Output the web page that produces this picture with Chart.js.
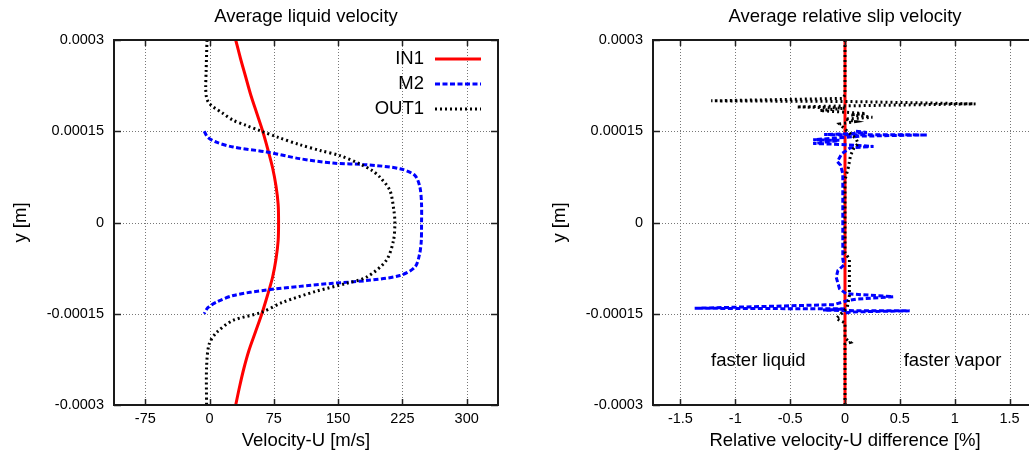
<!DOCTYPE html>
<html><head><meta charset="utf-8">
<script src="https://cdn.jsdelivr.net/npm/chart.js@4.4.0/dist/chart.umd.min.js"></script>
<style>
html,body{margin:0;padding:0;background:#fff;overflow:hidden;width:1029px;height:452px;}
#wrap{position:relative;width:1029px;height:452px;overflow:hidden;background:#fff;}
canvas{position:absolute;top:0;}
#c1{left:0;} #c2{left:539px;}
</style></head><body>
<div id="wrap"><canvas id="c1" width="520" height="452"></canvas><canvas id="c2" width="520" height="452"></canvas></div>
<script>
// ---- axis ticks ----
const yTicks = [-0.0003, -0.00015, 0, 0.00015, 0.0003];
const yTickLabels = ['-0.0003', '-0.00015', '0', '0.00015', '0.0003'];
const velTicks = [-75, 0, 75, 150, 225, 300];
const velTickLabels = ['-75', '0', '75', '150', '225', '300'];
const slipTicks = [-1.5, -1, -0.5, 0, 0.5, 1, 1.5];
const slipTickLabels = ['-1.5', '-1', '-0.5', '0', '0.5', '1', '1.5'];
const seriesNames = ['IN1', 'M2', 'OUT1'];

// ---- left chart: average liquid velocity [m/s] vs y [m] ----
const in1Y = [0.0003, 0.00027, 0.00024, 0.00021, 0.00018, 0.00015, 0.00012, 0.00009, 0.00006, 0.00003, 0,
  -0.00003, -0.00006, -0.00009, -0.00012, -0.00015, -0.00018, -0.00021, -0.00024, -0.00027, -0.0003];
const in1U = [30.5, 36, 42, 48, 55, 62, 68, 73.5, 77.5, 80, 80.5, 80, 77.5, 73.5, 67.5, 61, 53.5, 46, 40, 35, 30.5];

const m2Y = [0.00015, 0.00014, 0.000132, 0.000124, 0.000116, 0.000105, 0.0000977, 0.000095, 0.0000884, 0.0000774,
  0.0000581, 0.00003, 0, -0.00003, -0.000052, -0.0000735, -0.0000872, -0.0000955, -0.0000999, -0.000105,
  -0.000111, -0.00012, -0.000131, -0.00014, -0.00015];
const m2U = [-6.3, -2, 8, 27.6, 66.5, 105, 144, 183, 222, 239.5,
  245.4, 247.3, 247.3, 247, 245, 239.5, 222, 183, 144, 105,
  66.5, 27.6, 8, -2, -6.3];

const out1Y = [0.0003, 0.00025, 0.00022, 0.000205, 0.000197, 0.00019, 0.00018, 0.000168, 0.00016, 0.000151,
  0.00014, 0.000128, 0.000118, 0.00011, 0.0000966, 0.000085, 0.0000746, 0.0000527, 0.00002, 0,
  -0.00003, -0.0000626, -0.00009, -0.0001, -0.000113, -0.000131, -0.000148, -0.000161, -0.000181, -0.0002,
  -0.000238, -0.0003];
const out1U = [-3, -4, -4.5, -3.5, -1, 4.2, 15, 27.5, 42, 58.7,
  80, 105, 130, 152, 175, 190, 198.7, 210.4, 215, 216.2,
  214.5, 206, 183, 159.7, 124.5, 85.8, 60, 27.5, 8, -0.5,
  -3.5, -3.5];

// ---- right chart: relative slip velocity difference [%] vs y [m] ----
const slipIn1Y = [0.0003, 0.00015, 0, -0.00015, -0.0003];
const slipIn1D = [0, 0, 0, 0, 0];

const slipM2Y = [0.00015, 0.000148, 0.000146, 0.0001445, 0.0001443, 0.000144, 0.000142, 0.000136, 0.000135, 0.00013,
  0.000128, 0.000125, 0.000123, 0.000113, 0.0001, 0.000094, 0.00008, 0.00004, 0, -0.00006,
  -0.00007, -0.000079, -0.00009, -0.000109, -0.000117, -0.000122, -0.000126, -0.000128, -0.000135, -0.000141,
  -0.000142, -0.000144, -0.000145, -0.0001452, -0.000147, -0.00015];
const slipM2D = [0.1, 0.2, 0.05, -0.19, 0.0, 0.75, 0.15, -0.29, -0.05, -0.29,
  0.0, 0.26, 0.05, -0.03, -0.07, -0.04, -0.02, -0.02, -0.02, -0.02,
  -0.01, -0.065, -0.08, -0.05, 0.01, 0.44, 0.1, 0.03, -0.1, -1.37,
  0.0, -0.2, 0.1, 0.59, 0.05, -0.02];

const slipOut1Y = [0.0003, 0.00021, 0.000204, 0.0002, 0.000199, 0.000195, 0.000192, 0.00019, 0.000188, 0.000184,
  0.000179, 0.000177, 0.000173, 0.00017, 0.000166, 0.000162, 0.00015, 0.000138, 0.00013, 0.000122,
  0.00011, 0.00009, 0.00007, -0.00005, -0.00006, -0.00012, -0.00014, -0.000158, -0.000165, -0.00019,
  -0.000197, -0.0002, -0.0003];
const slipOut1D = [0.0, 0.0, -0.02, -1.22, 0.0, 1.19, 0.1, -0.44, 0.0, -0.23,
  0.19, 0.05, 0.25, 0.0, 0.1, -0.05, 0.02, 0.1, 0.12, 0.08,
  0.05, 0.03, 0.0, 0.0, 0.04, 0.04, 0.02, -0.08, 0.0, 0.0,
  0.05, 0.0, 0.0];

const FONT = 'Liberation Sans, Arial, Helvetica, sans-serif';
const pts = (xs, ys) => xs.map((v, i) => ({x: v, y: ys[i]}));

const styles = [
  {color: '#ff0000', dash: [], width: 3, order: 3},
  {color: '#0000ff', dash: [5, 2.5], width: 3, order: 2},
  {color: '#000000', dash: [2, 3], width: 3, order: 1}
];

function makeDatasets(list, tension) {
  return list.map((d, i) => ({
    label: seriesNames[i],
    data: d,
    showLine: true,
    pointRadius: 0,
    borderColor: styles[i].color,
    backgroundColor: styles[i].color,
    borderWidth: styles[i].width,
    borderDash: styles[i].dash,
    borderCapStyle: 'butt',
    tension: tension,
    order: styles[i].order,
    fill: false
  }));
}

function decoPlugin(cfg) {
  return {
    id: 'deco',
    beforeDatasetsDraw(chart) {
      const {ctx, chartArea: a, scales: {x, y}} = chart;
      ctx.save();
      ctx.strokeStyle = '#777';
      ctx.lineWidth = 1;
      ctx.setLineDash([1, 2]);
      x.ticks.forEach(t => {
        const p = Math.round(x.getPixelForValue(t.value)) + 0.5;
        ctx.beginPath(); ctx.moveTo(p, a.top); ctx.lineTo(p, a.bottom); ctx.stroke();
      });
      y.ticks.forEach(t => {
        const p = Math.round(y.getPixelForValue(t.value)) + 0.5;
        ctx.beginPath(); ctx.moveTo(a.left, p); ctx.lineTo(a.right, p); ctx.stroke();
      });
      ctx.restore();
    },
    afterDatasetsDraw(chart) {
      const {ctx, chartArea: a, scales: {x, y}} = chart;
      ctx.save();
      ctx.setLineDash([]);
      ctx.strokeStyle = '#222';
      ctx.lineWidth = 1.5;
      x.ticks.forEach(t => {
        const p = Math.round(x.getPixelForValue(t.value)) + 0.5;
        ctx.beginPath(); ctx.moveTo(p, a.bottom); ctx.lineTo(p, a.bottom - 6); ctx.stroke();
        ctx.beginPath(); ctx.moveTo(p, a.top); ctx.lineTo(p, a.top + 6); ctx.stroke();
      });
      y.ticks.forEach(t => {
        const p = Math.round(y.getPixelForValue(t.value)) + 0.5;
        ctx.beginPath(); ctx.moveTo(a.left, p); ctx.lineTo(a.left + 7, p); ctx.stroke();
        ctx.beginPath(); ctx.moveTo(a.right, p); ctx.lineTo(a.right - 7, p); ctx.stroke();
      });
      ctx.lineWidth = 2;
      ctx.strokeStyle = '#1a1a1a';
      ctx.strokeRect(a.left, a.top, a.right - a.left, a.bottom - a.top);

      ctx.fillStyle = '#000';
      ctx.font = '18.5px ' + FONT;
      ctx.textBaseline = 'middle';
      ctx.textAlign = 'center';
      ctx.fillText(cfg.title, (a.left + a.right) / 2, 17);

      if (cfg.legend) {
        chart.data.datasets.forEach((ds, i) => {
          const yy = 58.5 + i * 25;
          ctx.textAlign = 'right';
          ctx.fillStyle = '#000';
          ctx.fillText(ds.label, 424, yy);
          ctx.beginPath();
          ctx.strokeStyle = ds.borderColor;
          ctx.lineWidth = ds.borderWidth;
          ctx.setLineDash(ds.borderDash);
          ctx.lineCap = 'butt';
          ctx.moveTo(435, yy + 0.5); ctx.lineTo(481, yy + 0.5); ctx.stroke();
        });
      }
      if (cfg.notes) {
        ctx.setLineDash([]);
        ctx.fillStyle = '#000';
        ctx.textAlign = 'center';
        cfg.notes.forEach(n => ctx.fillText(n.text, x.getPixelForValue(n.x), y.getPixelForValue(n.y)));
      }
      ctx.restore();
    }
  };
}

function makeChart(id, datasets, xMin, xMax, xTicks, xLabels, xTitle, cfg) {
  return new Chart(document.getElementById(id), {
    type: 'scatter',
    data: {datasets},
    options: {
      responsive: false,
      animation: false,
      devicePixelRatio: 1,
      layout: {padding: {top: 40, right: 22, bottom: 0, left: 0}},
      plugins: {legend: {display: false}, tooltip: {enabled: false}, title: {display: false}},
      scales: {
        x: {
          type: 'linear', position: 'bottom', min: xMin, max: xMax,
          afterBuildTicks: s => { s.ticks = xTicks.map(v => ({value: v})); },
          afterFit: s => { s.height = 47; },
          grid: {display: false, drawTicks: false},
          border: {display: false},
          ticks: {callback: (v, i) => xLabels[i], color: '#000', font: {family: FONT, size: 14.5}, padding: 5, maxRotation: 0, autoSkip: false},
          title: {display: true, text: xTitle, color: '#000', font: {family: FONT, size: 18.5}, padding: {top: 0, bottom: 0}}
        },
        y: {
          type: 'linear', position: 'left', min: -0.0003, max: 0.0003,
          afterBuildTicks: s => { s.ticks = yTicks.map(v => ({value: v})); },
          afterFit: s => { s.width = 114; },
          grid: {display: false, drawTicks: false},
          border: {display: false},
          ticks: {callback: (v, i) => yTickLabels[i], color: '#000', font: {family: FONT, size: 14.5}, padding: 10, autoSkip: false},
          title: {display: true, text: 'y [m]', color: '#000', font: {family: FONT, size: 18.5}, padding: {top: 10, bottom: 0}}
        }
      }
    },
    plugins: [decoPlugin(cfg)]
  });
}

makeChart('c1',
  makeDatasets([pts(in1U, in1Y), pts(m2U, m2Y), pts(out1U, out1Y)], 0.3),
  -111.5, 336.5, velTicks, velTickLabels, 'Velocity-U [m/s]',
  {title: 'Average liquid velocity', legend: true});

makeChart('c2',
  makeDatasets([pts(slipIn1D, slipIn1Y), pts(slipM2D, slipM2Y), pts(slipOut1D, slipOut1Y)], 0),
  -1.75, 1.75, slipTicks, slipTickLabels, 'Relative velocity-U difference [%]',
  {title: 'Average relative slip velocity', legend: false,
   notes: [{text: 'faster liquid', x: -0.79, y: -0.000228}, {text: 'faster vapor', x: 0.98, y: -0.000228}]});
</script>
</body></html>
